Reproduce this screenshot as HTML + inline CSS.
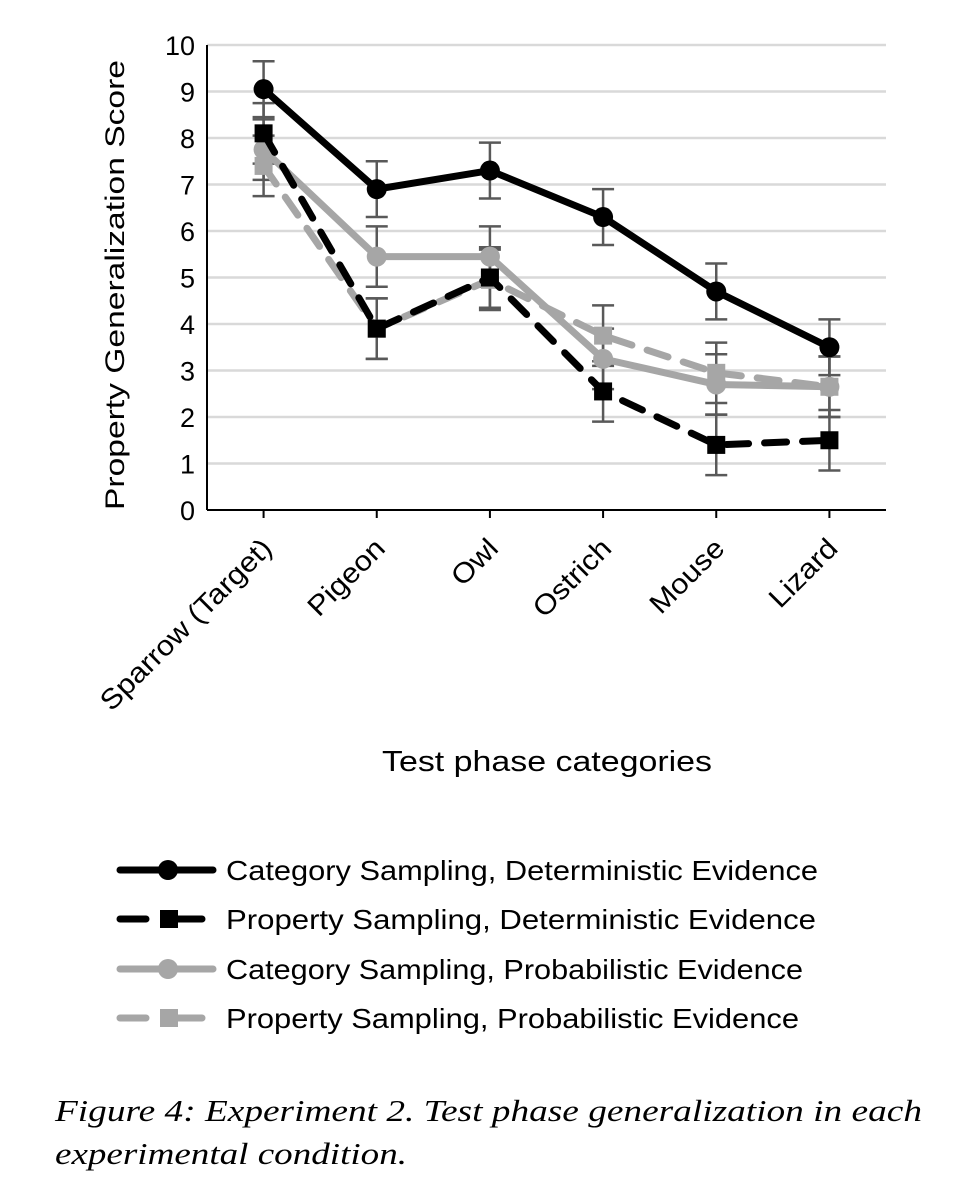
<!DOCTYPE html>
<html><head><meta charset="utf-8"><style>
html,body{margin:0;padding:0;background:#fff;}
svg{display:block;}
text{font-family:"Liberation Sans",sans-serif;}
text.serif{font-family:"Liberation Serif",serif;}
</style></head><body>
<svg id="chart" width="980" height="1196" viewBox="0 0 980 1196">
<g id="grid"></g>
<g id="axes"></g>
<g id="series"></g>
<text x="124" y="285" font-size="27" text-anchor="middle" transform="rotate(-90 124 285)" textLength="450" lengthAdjust="spacingAndGlyphs">Property Generalization Score</text>
<text x="547" y="771" font-size="29" text-anchor="middle" textLength="330" lengthAdjust="spacingAndGlyphs">Test phase categories</text>
<g id="legend"></g>
<text class="serif" x="55" y="1121" font-style="italic" font-size="31" textLength="867" lengthAdjust="spacingAndGlyphs">Figure 4: Experiment 2. Test phase generalization in each</text>
<text class="serif" x="55" y="1164" font-style="italic" font-size="31" textLength="352" lengthAdjust="spacingAndGlyphs">experimental condition.</text>
</svg>
<script>
const categories=["Sparrow (Target)","Pigeon","Owl","Ostrich","Mouse","Lizard"];
const yTicks=[0,1,2,3,4,5,6,7,8,9,10];
const catDet=[9.05,6.9,7.3,6.3,4.7,3.5];
const catDetErr=[0.6,0.6,0.6,0.6,0.6,0.6];
const propDet=[8.1,3.9,5.0,2.55,1.4,1.5];
const propDetErr=[0.65,0.65,0.65,0.65,0.65,0.65];
const catProb=[7.75,5.45,5.45,3.25,2.7,2.65];
const catProbErr=[0.65,0.65,0.65,0.65,0.65,0.65];
const propProb=[7.4,3.9,4.95,3.75,2.95,2.65];
const propProbErr=[0.65,0.65,0.65,0.65,0.65,0.65];
const seriesNames=["Category Sampling,  Deterministic Evidence","Property Sampling,  Deterministic Evidence","Category Sampling,  Probabilistic Evidence","Property Sampling,  Probabilistic Evidence"];

const NS="http://www.w3.org/2000/svg";
const X0=207,X1=886,Y0=510,Y10=45;
function yS(v){return Y0-(Y0-Y10)*v/10;}
function xS(i){return X0+(X1-X0)*(i+0.5)/categories.length;}
function mk(tag,attrs,parent){const e=document.createElementNS(NS,tag);for(const k in attrs)e.setAttribute(k,attrs[k]);parent.appendChild(e);return e;}
const grid=document.getElementById('grid'),axes=document.getElementById('axes'),ser=document.getElementById('series'),leg=document.getElementById('legend');
yTicks.forEach(t=>{
 if(t>0){const l=mk('line',{x1:X0,x2:X1,y1:yS(t),y2:yS(t),stroke:'#d9d9d9','stroke-width':2.5},grid);
 
 }
 const tx=mk('text',{x:X0-12,y:yS(t)+10,'font-size':27,'text-anchor':'end'},axes);tx.textContent=t;
 
 
});
let a=mk('line',{x1:X0,x2:X0,y1:Y10,y2:Y0,stroke:'#000','stroke-width':2},axes);


a=mk('line',{x1:X0,x2:X1,y1:Y0,y2:Y0,stroke:'#000','stroke-width':2},axes);


categories.forEach((c,i)=>{
 const x=xS(i);
 const tk=mk('line',{x1:x,x2:x,y1:Y0,y2:Y0+8,stroke:'#000','stroke-width':2},axes);
 
 
 const tx=mk('text',{x:x+10,y:Y0+40,'font-size':28,'text-anchor':'end',transform:`rotate(-45 ${x+10} ${Y0+40})`},axes);tx.textContent=c;
 
 
 const w=tx.getComputedTextLength();
 tx.setAttribute('textLength',w*1.1);
 tx.setAttribute('lengthAdjust','spacingAndGlyphs');
});
const defs=[
 {v:catDet,e:catDetErr,col:'#000',dash:null,m:'circle',name:'category-deterministic'},
 {v:propDet,e:propDetErr,col:'#000',dash:'22 16',m:'square',name:'property-deterministic'},
 {v:catProb,e:catProbErr,col:'#a6a6a6',dash:null,m:'circle',name:'category-probabilistic'},
 {v:propProb,e:propProbErr,col:'#a6a6a6',dash:'22 16',m:'square',name:'property-probabilistic'}];
defs.forEach(d=>{d.v.forEach((v,i)=>{
 const x=xS(i),g=mk('g',{stroke:'#595959','stroke-width':2.5},ser);
 
 
 mk('line',{x1:x,x2:x,y1:yS(v+d.e[i]),y2:yS(v-d.e[i])},g);
 mk('line',{x1:x-11,x2:x+11,y1:yS(v+d.e[i]),y2:yS(v+d.e[i])},g);
 mk('line',{x1:x-11,x2:x+11,y1:yS(v-d.e[i]),y2:yS(v-d.e[i])},g);
});});
[3,2,1,0].forEach(k=>{const d=defs[k];
 const pts=d.v.map((v,i)=>xS(i)+','+yS(v)).join(' ');
 const pl=mk('polyline',{points:pts,fill:'none',stroke:d.col,'stroke-width':7,'stroke-linejoin':'round','stroke-linecap':'round'},ser);
 if(d.dash)pl.setAttribute('stroke-dasharray',d.dash);
 
 
 d.v.forEach((v,i)=>{let m;
  if(d.m==='circle')m=mk('circle',{cx:xS(i),cy:yS(v),r:10,fill:d.col},ser);
  else m=mk('rect',{x:xS(i)-9,y:yS(v)-9,width:18,height:18,fill:d.col},ser);
  
  
 });
});
const lys=[870,919,969,1018];
defs.forEach((d,k)=>{const y=lys[k];
 const g=mk('g',{},leg);
 
 
 const l=mk('line',{x1:120,x2:213,y1:y,y2:y,stroke:d.col,'stroke-width':7,'stroke-linecap':'round'},g);
 if(d.dash){l.setAttribute('x2',210);l.setAttribute('stroke-dasharray','26 30');}
 if(d.m==='circle')mk('circle',{cx:168,cy:y,r:10,fill:d.col},g);
 else mk('rect',{x:160,y:y-9,width:18,height:18,fill:d.col},g);
 const t=mk('text',{x:226,y:y+10,'font-size':28,textLength:[592,590,577,573][k],lengthAdjust:'spacingAndGlyphs'},g);
 t.textContent=seriesNames[k];
});
</script>
</body></html>
